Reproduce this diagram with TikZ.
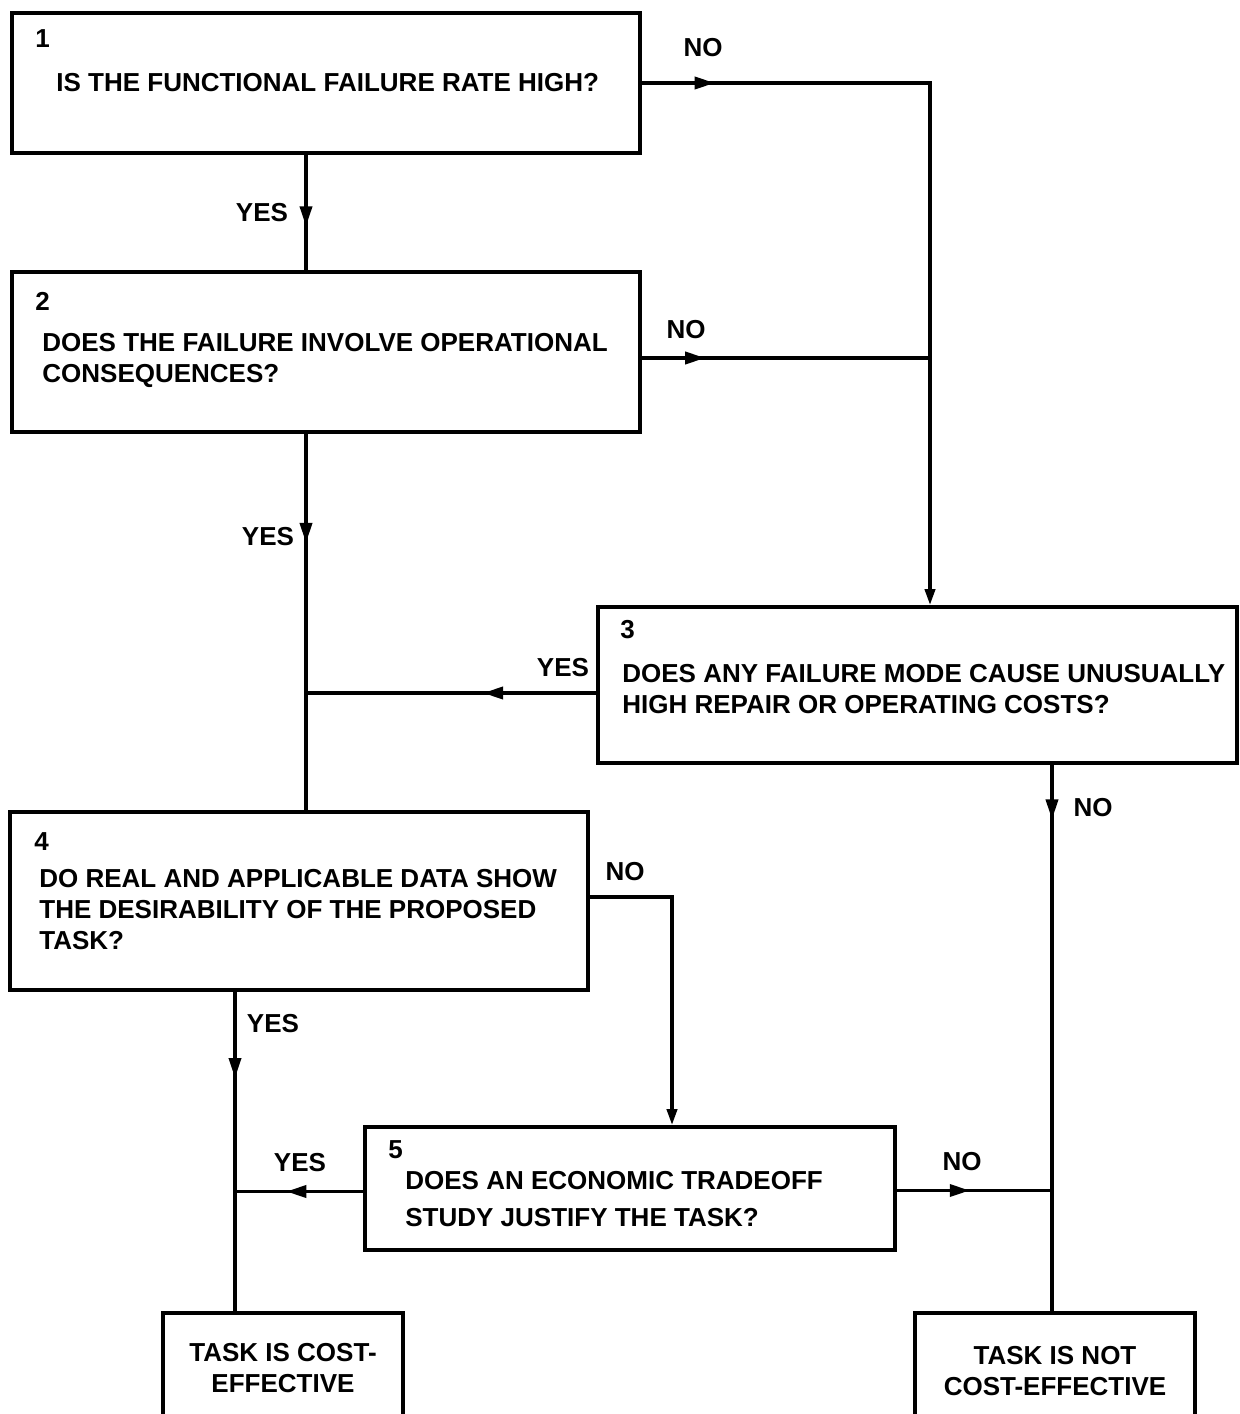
\documentclass[tikz,border=0pt]{standalone}
\usepackage{fontspec}
\setmainfont{Liberation Sans}
\usetikzlibrary{arrows.meta,decorations.markings,calc}
\tikzset{
  box/.style={draw, line width=1.8pt, rectangle, inner sep=0pt},
  txt/.style={font=\fontsize{13}{15.5}\selectfont\bfseries, inner sep=0pt, align=left, anchor=north west},
  ctxt/.style={font=\fontsize{13}{15.5}\selectfont\bfseries, inner sep=0pt, align=center, anchor=north},
  lbl/.style={font=\fontsize{13}{15.5}\selectfont\bfseries, inner sep=0pt},
  conn/.style={line width=1.8pt, line join=miter},
  midarrow/.style={postaction={decorate},decoration={markings,mark=at position #1 with {\arrow{Triangle[length=10pt,width=6pt]}}}},
  endtip/.style={-{Triangle[length=8pt,width=5pt]}}
}
\begin{document}
\begin{tikzpicture}[x=0.5pt,y=-0.5pt]
\useasboundingbox (0,0) rectangle (1239,1414);
\clip (0,0) rectangle (1239,1414);
\fill[white] (0,0) rectangle (1239,1414);
% boxes
\node[box, minimum width=314pt, minimum height=70pt] (b1) at (326,83) {};
\node[box, minimum width=314pt, minimum height=80pt] (b2) at (326,352) {};
\node[box, minimum width=319.5pt, minimum height=78pt] (b3) at (917.5,685) {};
\node[box, minimum width=289pt, minimum height=89pt] (b4) at (299,901) {};
\node[box, minimum width=265pt, minimum height=61.5pt] (b5) at (630,1188.5) {};
\node[box, minimum width=120pt, minimum height=68.5pt] (ce) at (283,1381.5) {};
\node[box, minimum width=140pt, minimum height=68.5pt] (nce) at (1055,1381.5) {};
% texts
\node[txt] (n1) at (35,29) {1};
\node[txt] (t1) at (56,73) {IS THE FUNCTIONAL FAILURE RATE HIGH?};
\node[txt] (n2) at (35,292) {2};
\node[txt] (t2) at (42,333) {DOES THE FAILURE INVOLVE OPERATIONAL\\CONSEQUENCES?};
\node[txt] (n3) at (620,620) {3};
\node[txt] (t3) at (622,664) {DOES ANY FAILURE MODE CAUSE UNUSUALLY\\HIGH REPAIR OR OPERATING COSTS?};
\node[txt] (n4) at (34,832) {4};
\node[txt] (t4) at (39,869) {DO REAL AND APPLICABLE DATA SHOW\\THE DESIRABILITY OF THE PROPOSED\\TASK?};
\node[txt] (n5) at (388,1140) {5};
\node[txt] (t5) at (405,1171) {DOES AN ECONOMIC TRADEOFF\\[3pt]STUDY JUSTIFY THE TASK?};
\node[ctxt] (tce) at (283,1343) {TASK IS COST-\\EFFECTIVE};
\node[ctxt] (tnce) at (1055,1346) {TASK IS NOT\\COST-EFFECTIVE};
% junction columns
\coordinate (lx) at (306,0);
\coordinate (cx) at (930,0);
\coordinate (yx) at (235,0);
\coordinate (nx) at (1052,0);
\coordinate (fx) at (672,0);
% connectors
\draw[conn,midarrow=0.09,endtip] (b1.east) -- (b1.east -| cx) -- (b3.north -| cx);
\draw[conn,midarrow=0.22] ($(b2.east)+(0,6)$) coordinate (b2e) -- (b2e -| cx);
\draw[conn,midarrow=0.62] (b1.south -| lx) -- (b2.north -| lx);
\draw[conn,midarrow=0.29] (b2.south -| lx) -- (b4.north -| lx);
\draw[conn,midarrow=0.39] ($(b3.west)+(0,8)$) coordinate (b3w) -- (b3w -| lx);
\draw[conn,endtip] ($(b4.east)+(0,-4)$) coordinate (b4e) -- (b4e -| fx) -- (b5.north -| fx);
\draw[conn,midarrow=0.27] (b4.south -| yx) -- (ce.north -| yx);
\draw[conn,midarrow=0.6] ($(b5.west)+(0,3)$) coordinate (b5w) -- (b5w -| yx);
\draw[conn,midarrow=0.47] ($(b5.east)+(0,2)$) coordinate (b5e) -- (b5e -| nx);
\draw[conn,midarrow=0.1] (b3.south -| nx) -- (nce.north -| nx);
% labels
\node[lbl] (l1) at (703,48) {NO};
\node[lbl] (l2) at (262,213) {YES};
\node[lbl] (l3) at (686,330) {NO};
\node[lbl] (l4) at (268,537) {YES};
\node[lbl] (l5) at (563,668) {YES};
\node[lbl] (l6) at (1093,808) {NO};
\node[lbl] (l7) at (625,872) {NO};
\node[lbl] (l8) at (273,1024) {YES};
\node[lbl] (l9) at (300,1163) {YES};
\node[lbl] (l10) at (962,1162) {NO};
\end{tikzpicture}
\end{document}
